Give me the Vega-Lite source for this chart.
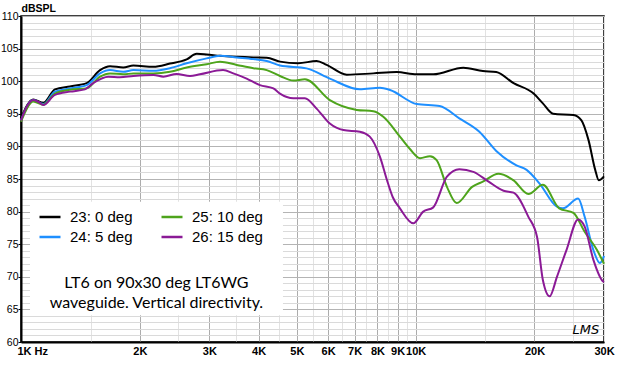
{
  "$schema": "https://vega.github.io/schema/vega-lite/v6.json",
  "width": 583,
  "height": 326,
  "autosize": "none",
  "padding": {"left": 21, "top": 16, "right": 16, "bottom": 23},
  "background": "#ffffff",
  "config": {
    "view": {"stroke": "#000000", "strokeWidth": 1.5},
    "font": "Liberation Sans"
  },
  "datasets": {
    "curves": [
      {"s": "23: 0 deg", "f": 1000, "db": 94.3}, {"s": "23: 0 deg", "f": 1074, "db": 97.2}, {"s": "23: 0 deg", "f": 1139, "db": 96.7}, {"s": "23: 0 deg", "f": 1219, "db": 98.75}, {"s": "23: 0 deg", "f": 1331, "db": 99.2}, {"s": "23: 0 deg", "f": 1467, "db": 99.7}, {"s": "23: 0 deg", "f": 1586, "db": 101.7}, {"s": "23: 0 deg", "f": 1681, "db": 102.3}, {"s": "23: 0 deg", "f": 1816, "db": 102.1}, {"s": "23: 0 deg", "f": 1926, "db": 102.4}, {"s": "23: 0 deg", "f": 2164, "db": 102.2}, {"s": "23: 0 deg", "f": 2385, "db": 102.7}, {"s": "23: 0 deg", "f": 2629, "db": 103.35}, {"s": "23: 0 deg", "f": 2787, "db": 104.2}, {"s": "23: 0 deg", "f": 2954, "db": 104.1}, {"s": "23: 0 deg", "f": 3193, "db": 103.9}, {"s": "23: 0 deg", "f": 3520, "db": 103.75}, {"s": "23: 0 deg", "f": 3878, "db": 103.65}, {"s": "23: 0 deg", "f": 4194, "db": 103.6}, {"s": "23: 0 deg", "f": 4532, "db": 103.0}, {"s": "23: 0 deg", "f": 5040, "db": 102.75}, {"s": "23: 0 deg", "f": 5610, "db": 103.1}, {"s": "23: 0 deg", "f": 5950, "db": 102.5}, {"s": "23: 0 deg", "f": 6690, "db": 101.0}, {"s": "23: 0 deg", "f": 7810, "db": 101.2}, {"s": "23: 0 deg", "f": 8950, "db": 101.4}, {"s": "23: 0 deg", "f": 10060, "db": 101.05}, {"s": "23: 0 deg", "f": 11080, "db": 101.05}, {"s": "23: 0 deg", "f": 13200, "db": 102.07}, {"s": "23: 0 deg", "f": 14800, "db": 101.56}, {"s": "23: 0 deg", "f": 16000, "db": 101.4}, {"s": "23: 0 deg", "f": 17700, "db": 99.7}, {"s": "23: 0 deg", "f": 19900, "db": 98.1}, {"s": "23: 0 deg", "f": 21000, "db": 96.6}, {"s": "23: 0 deg", "f": 22300, "db": 95.0}, {"s": "23: 0 deg", "f": 25100, "db": 94.8}, {"s": "23: 0 deg", "f": 26300, "db": 94.0}, {"s": "23: 0 deg", "f": 27400, "db": 91.0}, {"s": "23: 0 deg", "f": 28500, "db": 86.4}, {"s": "23: 0 deg", "f": 29100, "db": 84.8}, {"s": "23: 0 deg", "f": 30000, "db": 85.4},
      {"s": "24: 5 deg", "f": 1000, "db": 94.0}, {"s": "24: 5 deg", "f": 1074, "db": 97.1}, {"s": "24: 5 deg", "f": 1139, "db": 96.5}, {"s": "24: 5 deg", "f": 1219, "db": 98.4}, {"s": "24: 5 deg", "f": 1331, "db": 98.9}, {"s": "24: 5 deg", "f": 1467, "db": 99.4}, {"s": "24: 5 deg", "f": 1586, "db": 101.2}, {"s": "24: 5 deg", "f": 1681, "db": 101.7}, {"s": "24: 5 deg", "f": 1816, "db": 101.45}, {"s": "24: 5 deg", "f": 1926, "db": 101.7}, {"s": "24: 5 deg", "f": 2164, "db": 101.6}, {"s": "24: 5 deg", "f": 2385, "db": 102.0}, {"s": "24: 5 deg", "f": 2629, "db": 102.75}, {"s": "24: 5 deg", "f": 2954, "db": 103.5}, {"s": "24: 5 deg", "f": 3193, "db": 103.9}, {"s": "24: 5 deg", "f": 3520, "db": 103.65}, {"s": "24: 5 deg", "f": 3878, "db": 103.4}, {"s": "24: 5 deg", "f": 4194, "db": 103.1}, {"s": "24: 5 deg", "f": 4532, "db": 102.4}, {"s": "24: 5 deg", "f": 5290, "db": 101.97}, {"s": "24: 5 deg", "f": 6060, "db": 100.4}, {"s": "24: 5 deg", "f": 7220, "db": 98.75}, {"s": "24: 5 deg", "f": 8120, "db": 99.0}, {"s": "24: 5 deg", "f": 8610, "db": 98.65}, {"s": "24: 5 deg", "f": 10060, "db": 96.5}, {"s": "24: 5 deg", "f": 11500, "db": 96.2}, {"s": "24: 5 deg", "f": 12900, "db": 94.3}, {"s": "24: 5 deg", "f": 14500, "db": 92.25}, {"s": "24: 5 deg", "f": 16000, "db": 89.3}, {"s": "24: 5 deg", "f": 18000, "db": 87.1}, {"s": "24: 5 deg", "f": 19100, "db": 86.4}, {"s": "24: 5 deg", "f": 20600, "db": 84.3}, {"s": "24: 5 deg", "f": 22800, "db": 80.75}, {"s": "24: 5 deg", "f": 23600, "db": 80.5}, {"s": "24: 5 deg", "f": 25800, "db": 82.0}, {"s": "24: 5 deg", "f": 26800, "db": 79.2}, {"s": "24: 5 deg", "f": 28200, "db": 74.1}, {"s": "24: 5 deg", "f": 29300, "db": 72.1}, {"s": "24: 5 deg", "f": 30000, "db": 73.2},
      {"s": "25: 10 deg", "f": 1000, "db": 93.8}, {"s": "25: 10 deg", "f": 1074, "db": 96.9}, {"s": "25: 10 deg", "f": 1139, "db": 96.4}, {"s": "25: 10 deg", "f": 1219, "db": 98.1}, {"s": "25: 10 deg", "f": 1331, "db": 98.7}, {"s": "25: 10 deg", "f": 1467, "db": 98.9}, {"s": "25: 10 deg", "f": 1586, "db": 100.7}, {"s": "25: 10 deg", "f": 1681, "db": 101.2}, {"s": "25: 10 deg", "f": 1816, "db": 101.05}, {"s": "25: 10 deg", "f": 1926, "db": 101.2}, {"s": "25: 10 deg", "f": 2164, "db": 101.2}, {"s": "25: 10 deg", "f": 2385, "db": 101.45}, {"s": "25: 10 deg", "f": 2629, "db": 102.1}, {"s": "25: 10 deg", "f": 2954, "db": 102.6}, {"s": "25: 10 deg", "f": 3193, "db": 103.0}, {"s": "25: 10 deg", "f": 3520, "db": 102.5}, {"s": "25: 10 deg", "f": 3878, "db": 102.0}, {"s": "25: 10 deg", "f": 4194, "db": 101.7}, {"s": "25: 10 deg", "f": 4532, "db": 100.8}, {"s": "25: 10 deg", "f": 4900, "db": 100.1}, {"s": "25: 10 deg", "f": 5240, "db": 100.3}, {"s": "25: 10 deg", "f": 6060, "db": 97.1}, {"s": "25: 10 deg", "f": 7090, "db": 95.6}, {"s": "25: 10 deg", "f": 7810, "db": 95.4}, {"s": "25: 10 deg", "f": 8280, "db": 94.55}, {"s": "25: 10 deg", "f": 9120, "db": 91.5}, {"s": "25: 10 deg", "f": 9670, "db": 89.6}, {"s": "25: 10 deg", "f": 10260, "db": 88.2}, {"s": "25: 10 deg", "f": 10870, "db": 88.5}, {"s": "25: 10 deg", "f": 11300, "db": 87.9}, {"s": "25: 10 deg", "f": 12000, "db": 83.8}, {"s": "25: 10 deg", "f": 12700, "db": 81.3}, {"s": "25: 10 deg", "f": 13900, "db": 83.8}, {"s": "25: 10 deg", "f": 14800, "db": 84.6}, {"s": "25: 10 deg", "f": 16200, "db": 85.8}, {"s": "25: 10 deg", "f": 17700, "db": 84.8}, {"s": "25: 10 deg", "f": 19300, "db": 82.7}, {"s": "25: 10 deg", "f": 21000, "db": 84.1}, {"s": "25: 10 deg", "f": 23100, "db": 80.5}, {"s": "25: 10 deg", "f": 25100, "db": 79.8}, {"s": "25: 10 deg", "f": 26800, "db": 76.9}, {"s": "25: 10 deg", "f": 28800, "db": 74.1}, {"s": "25: 10 deg", "f": 30000, "db": 72.0},
      {"s": "26: 15 deg", "f": 1000, "db": 94.0}, {"s": "26: 15 deg", "f": 1034, "db": 96.1}, {"s": "26: 15 deg", "f": 1074, "db": 97.1}, {"s": "26: 15 deg", "f": 1106, "db": 96.85}, {"s": "26: 15 deg", "f": 1139, "db": 96.35}, {"s": "26: 15 deg", "f": 1219, "db": 97.9}, {"s": "26: 15 deg", "f": 1331, "db": 98.4}, {"s": "26: 15 deg", "f": 1452, "db": 98.75}, {"s": "26: 15 deg", "f": 1524, "db": 99.7}, {"s": "26: 15 deg", "f": 1664, "db": 100.7}, {"s": "26: 15 deg", "f": 1780, "db": 100.6}, {"s": "26: 15 deg", "f": 1926, "db": 100.8}, {"s": "26: 15 deg", "f": 2166, "db": 100.95}, {"s": "26: 15 deg", "f": 2295, "db": 100.7}, {"s": "26: 15 deg", "f": 2480, "db": 101.1}, {"s": "26: 15 deg", "f": 2680, "db": 100.8}, {"s": "26: 15 deg", "f": 2840, "db": 101.05}, {"s": "26: 15 deg", "f": 3250, "db": 101.7}, {"s": "26: 15 deg", "f": 3450, "db": 101.2}, {"s": "26: 15 deg", "f": 3730, "db": 100.4}, {"s": "26: 15 deg", "f": 4030, "db": 99.4}, {"s": "26: 15 deg", "f": 4360, "db": 98.9}, {"s": "26: 15 deg", "f": 4530, "db": 98.1}, {"s": "26: 15 deg", "f": 4900, "db": 97.4}, {"s": "26: 15 deg", "f": 5240, "db": 97.4}, {"s": "26: 15 deg", "f": 5610, "db": 95.8}, {"s": "26: 15 deg", "f": 6060, "db": 93.5}, {"s": "26: 15 deg", "f": 6560, "db": 92.5}, {"s": "26: 15 deg", "f": 7220, "db": 92.25}, {"s": "26: 15 deg", "f": 7650, "db": 91.5}, {"s": "26: 15 deg", "f": 8120, "db": 88.4}, {"s": "26: 15 deg", "f": 8460, "db": 84.8}, {"s": "26: 15 deg", "f": 8750, "db": 82.2}, {"s": "26: 15 deg", "f": 9120, "db": 80.5}, {"s": "26: 15 deg", "f": 9860, "db": 78.2}, {"s": "26: 15 deg", "f": 10450, "db": 80.0}, {"s": "26: 15 deg", "f": 11080, "db": 80.65}, {"s": "26: 15 deg", "f": 12000, "db": 85.35}, {"s": "26: 15 deg", "f": 12900, "db": 86.5}, {"s": "26: 15 deg", "f": 14000, "db": 86.1}, {"s": "26: 15 deg", "f": 15300, "db": 84.6}, {"s": "26: 15 deg", "f": 16700, "db": 83.2}, {"s": "26: 15 deg", "f": 17700, "db": 82.9}, {"s": "26: 15 deg", "f": 19300, "db": 79.2}, {"s": "26: 15 deg", "f": 20300, "db": 76.1}, {"s": "26: 15 deg", "f": 21000, "db": 69.5}, {"s": "26: 15 deg", "f": 21850, "db": 67.0}, {"s": "26: 15 deg", "f": 22800, "db": 70.0}, {"s": "26: 15 deg", "f": 24100, "db": 74.1}, {"s": "26: 15 deg", "f": 25800, "db": 78.8}, {"s": "26: 15 deg", "f": 26800, "db": 77.7}, {"s": "26: 15 deg", "f": 28200, "db": 72.6}, {"s": "26: 15 deg", "f": 29900, "db": 69.25}, {"s": "26: 15 deg", "f": 30000, "db": 69.2}
    ],
    "box": [{"f": 1054, "f2": 4610, "db": 64.1, "db2": 81.5}],
    "notes": [
      {"f": 2204, "db": 69.05, "t": "LT6 on 90x30 deg LT6WG"},
      {"f": 2204, "db": 66.0, "t": "waveguide. Vertical directivity."}
    ],
    "mark": [{"f": 27000, "db": 61.9, "t": "LMS"}]
  },
  "encoding": {
    "x": {
      "field": "f", "type": "quantitative",
      "scale": {"type": "log", "domain": [1000, 30000], "nice": false, "zero": false},
      "axis": {
        "title": null,
        "values": [1000, 1500, 2000, 2500, 3000, 3500, 4000, 4500, 5000, 5500, 6000, 6500, 7000, 7500, 8000, 8500, 9000, 9500, 10000, 15000, 20000, 25000, 30000],
        "labelExpr": "datum.value == 1000 ? '1K  Hz' : (indexof([2000,3000,4000,5000,6000,7000,8000,9000,10000,20000,30000], datum.value) >= 0 ? (datum.value/1000) + 'K' : '')",
        "labelAlign": {"condition": {"test": "datum.value == 1000", "value": "left"}, "value": "center"},
        "labelOffset": {"condition": {"test": "datum.value == 1000", "value": -4}, "value": 0},
        "labelFont": "Liberation Sans", "labelFontSize": 11, "labelFontWeight": "bold", "labelColor": "#000000",
        "labelPadding": 3, "labelOverlap": false, "labelFlush": false, "labelBound": false,
        "ticks": false,
        "domainColor": "#000000", "domainWidth": 2,
        "grid": true,
        "gridColor": {"condition": {"test": "indexof([2000,3000,4000,5000,6000,7000,8000,9000,10000,20000], datum.value) >= 0", "value": "#acacac"}, "value": "#e2e2e2"},
        "gridWidth": 1
      }
    },
    "y": {
      "field": "db", "type": "quantitative",
      "scale": {"domain": [60, 110], "nice": false, "zero": false},
      "axis": {
        "title": "dBSPL", "titleAngle": 0, "titleAlign": "left", "titleBaseline": "alphabetic",
        "titleX": 0, "titleY": -5, "titleFont": "Liberation Sans", "titleFontSize": 10.5, "titleFontWeight": "bold", "titleColor": "#000000",
        "values": [60,61,62,63,64,65,66,67,68,69,70,71,72,73,74,75,76,77,78,79,80,81,82,83,84,85,86,87,88,89,90,91,92,93,94,95,96,97,98,99,100,101,102,103,104,105,106,107,108,109,110],
        "labelExpr": "datum.value % 5 == 0 ? datum.label : ''",
        "labelFont": "Liberation Sans", "labelFontSize": 10.5, "labelColor": "#000000", "labelPadding": 0,
        "labelOverlap": false, "labelBound": false, "labelFlush": false,
        "tickSize": 3,
        "tickColor": {"condition": {"test": "datum.value % 5 == 0", "value": "#000000"}, "value": "rgba(0,0,0,0)"},
        "domainColor": "#000000", "domainWidth": 2,
        "grid": true,
        "gridColor": {"condition": {"test": "datum.value % 5 == 0", "value": "#b4b4b4"}, "value": "#dadada"},
        "gridWidth": 1
      }
    }
  },
  "layer": [
    {
      "data": {"name": "box"},
      "mark": {"type": "rect", "fill": "#ffffff", "stroke": null},
      "encoding": {"x2": {"field": "f2"}, "y2": {"field": "db2"}}
    },
    {
      "data": {"name": "curves"},
      "mark": {"type": "line", "interpolate": "monotone", "strokeWidth": 2},
      "encoding": {
        "color": {
          "field": "s", "type": "nominal",
          "scale": {
            "domain": ["23: 0 deg", "24: 5 deg", "25: 10 deg", "26: 15 deg"],
            "range": ["#000000", "#1e8fff", "#4ea41c", "#8b1a96"]
          },
          "legend": {
            "title": null, "orient": "none", "legendX": 17, "legendY": 189,
            "columns": 2, "columnPadding": 23, "rowPadding": 0, "padding": 0,
            "symbolType": "stroke", "symbolSize": 441, "symbolStrokeWidth": 2.5,
            "labelFont": "Liberation Sans", "labelFontSize": 15, "labelColor": "#000000", "labelOffset": 8, "labelLimit": 200
          }
        }
      }
    },
    {
      "data": {"name": "notes"},
      "mark": {"type": "text", "font": "Lato", "fontSize": 16, "color": "#000000", "align": "center", "baseline": "middle"},
      "encoding": {"text": {"field": "t"}}
    },
    {
      "data": {"name": "mark"},
      "mark": {"type": "text", "font": "DejaVu Sans", "fontStyle": "italic", "fontSize": 13, "color": "#000000", "align": "center", "baseline": "middle"},
      "encoding": {"text": {"field": "t"}}
    }
  ]
}
